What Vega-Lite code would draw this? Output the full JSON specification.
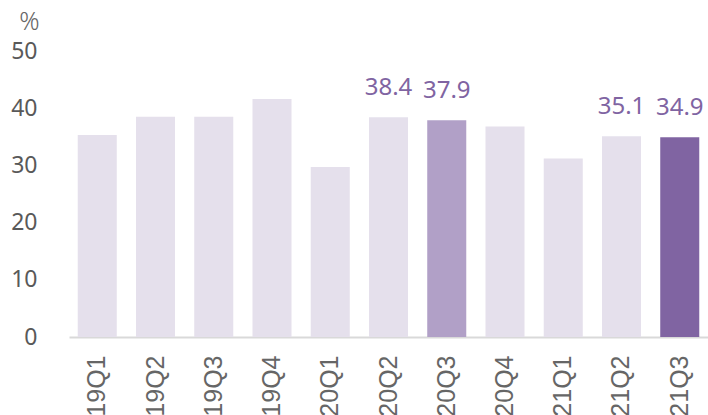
{
  "$schema": "https://vega.github.io/schema/vega-lite/v6.json",
  "width": 639,
  "height": 286,
  "autosize": {"type": "none"},
  "padding": {"left": 69, "top": 51, "right": 0, "bottom": 78},
  "background": "white",
  "config": {"view": {"stroke": null}},
  "data": {
    "values": [
      {"quarter": "19Q1", "value": 35.3, "group": "other", "show": false},
      {"quarter": "19Q2", "value": 38.5, "group": "other", "show": false},
      {"quarter": "19Q3", "value": 38.5, "group": "other", "show": false},
      {"quarter": "19Q4", "value": 41.6, "group": "other", "show": false},
      {"quarter": "20Q1", "value": 29.7, "group": "other", "show": false},
      {"quarter": "20Q2", "value": 38.4, "group": "other", "show": true},
      {"quarter": "20Q3", "value": 37.9, "group": "prior", "show": true},
      {"quarter": "20Q4", "value": 36.8, "group": "other", "show": false},
      {"quarter": "21Q1", "value": 31.2, "group": "other", "show": false},
      {"quarter": "21Q2", "value": 35.1, "group": "other", "show": true},
      {"quarter": "21Q3", "value": 34.9, "group": "current", "show": true}
    ]
  },
  "encoding": {
    "x": {
      "field": "quarter",
      "type": "nominal",
      "sort": null,
      "scale": {"paddingInner": 0.33, "paddingOuter": 0.15},
      "axis": {
        "title": null,
        "labelAngle": -90,
        "labelFont": "Liberation Sans",
        "labelFontSize": 25,
        "labelColor": "#666666",
        "labelPadding": 18,
        "ticks": false,
        "domainColor": "#D9D9D9",
        "domainWidth": 2
      }
    },
    "y": {
      "field": "value",
      "type": "quantitative",
      "scale": {"domain": [0, 50], "nice": false},
      "axis": {
        "values": [0, 10, 20, 30, 40, 50],
        "grid": false,
        "domain": false,
        "ticks": false,
        "labelFont": "Noto Sans",
        "labelFontSize": 23,
        "labelColor": "#595959",
        "labelPadding": 32,
        "title": "%",
        "titleAngle": 0,
        "titleX": -40,
        "titleY": -30,
        "titleAlign": "center",
        "titleBaseline": "middle",
        "titleFont": "Noto Sans",
        "titleFontSize": 25,
        "titleFontWeight": 300,
        "titleColor": "#666666"
      }
    }
  },
  "layer": [
    {
      "mark": {"type": "bar"},
      "encoding": {
        "color": {
          "field": "group",
          "type": "nominal",
          "scale": {"domain": ["other", "prior", "current"], "range": ["#E5E0EC", "#B1A0C7", "#8064A2"]},
          "legend": null
        }
      }
    },
    {
      "transform": [{"filter": "datum.show"}],
      "mark": {"type": "text", "dy": -22, "baseline": "alphabetic", "font": "Noto Sans", "fontSize": 24, "color": "#8064A2"},
      "encoding": {
        "text": {"field": "value", "type": "quantitative", "format": ".1f"}
      }
    }
  ]
}
